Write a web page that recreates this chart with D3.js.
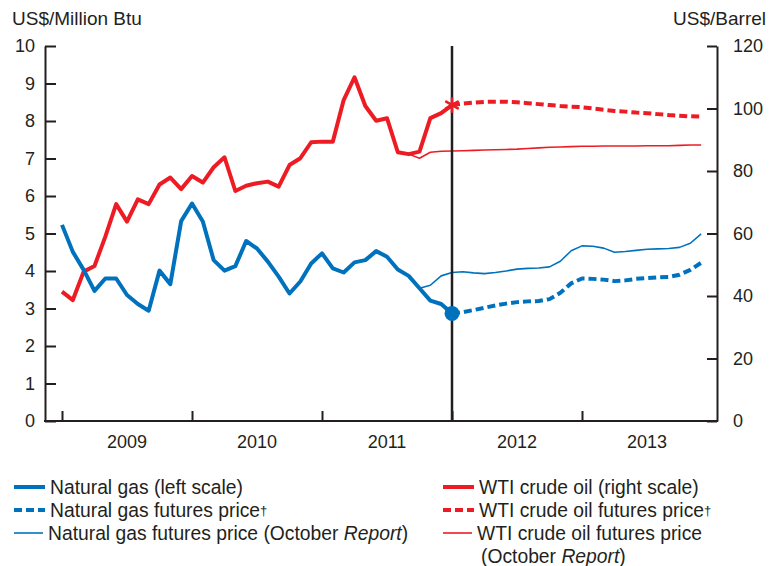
<!DOCTYPE html>
<html>
<head>
<meta charset="utf-8">
<script src="https://cdn.jsdelivr.net/npm/d3@7"></script>
<style>
  body { margin: 0; background: #fff; }
  text { font-family: "Liberation Sans", Arial, sans-serif; fill: #231f20; }
</style>
</head>
<body>
<div id="chart"></div>
<script>
// months counted from Jan 2009 (0) to Dec 2013 (59)
var gasMonths = d3.range(0, 37);
var gasHist = [5.23, 4.51, 4.03, 3.47, 3.80, 3.80, 3.36, 3.12, 2.94, 4.01, 3.65, 5.33,
  5.80, 5.32, 4.29, 4.01, 4.13, 4.80, 4.60, 4.25, 3.85, 3.40, 3.72, 4.20,
  4.47, 4.07, 3.96, 4.23, 4.29, 4.53, 4.38, 4.04, 3.87, 3.54, 3.21, 3.12, 2.87];
var oilHist = [41.4, 38.7, 47.8, 49.6, 59.0, 69.4, 63.8, 70.9, 69.4, 75.7, 77.9, 74.2,
  78.4, 76.3, 81.2, 84.4, 73.6, 75.3, 76.1, 76.6, 75.0, 81.9, 84.1, 89.2,
  89.4, 89.4, 102.7, 110.0, 100.8, 96.1, 96.9, 86.0, 85.4, 86.2, 96.9, 98.5, 101.1];

var futMonths = d3.range(36, 60);
var gasFut = [2.87, 2.90, 2.96, 3.02, 3.08, 3.13, 3.17, 3.19, 3.20, 3.25, 3.42, 3.67,
  3.80, 3.79, 3.77, 3.73, 3.75, 3.79, 3.81, 3.83, 3.84, 3.90, 4.03, 4.22];
var oilFut = [101.1, 101.6, 101.9, 102.1, 102.2, 102.2, 102.0, 101.7, 101.4, 101.1, 100.8, 100.6,
  100.4, 100.0, 99.6, 99.2, 99.0, 98.7, 98.5, 98.2, 97.9, 97.7, 97.5, 97.4];

var gasOctMonths = d3.range(33, 60);
var gasOct = [3.54, 3.62, 3.87, 3.96, 3.98, 3.95, 3.93, 3.96, 4.00, 4.05, 4.07, 4.08,
  4.11, 4.26, 4.54, 4.67, 4.66, 4.61, 4.50, 4.52, 4.55, 4.58, 4.59, 4.60, 4.63, 4.74, 4.99];
var oilOctMonths = d3.range(32, 60);
var oilOct = [85.4, 84.1, 86.0, 86.3, 86.4, 86.5, 86.6, 86.7, 86.8, 86.9, 87.0, 87.2,
  87.4, 87.6, 87.7, 87.8, 87.9, 87.9, 88.0, 88.0, 88.0, 88.0, 88.1, 88.1, 88.1, 88.2, 88.3, 88.3];

var yearTicks = [0, 12, 24, 36, 48];
var yearLabels = ["2009", "2010", "2011", "2012", "2013"];

var blue = "#0071bc", red = "#ed1c24", ink = "#231f20";

var width = 770, height = 566;
var plotLeft = 45, plotRight = 717, plotTop = 46, plotBottom = 421;

var svg = d3.select("#chart").append("svg")
  .attr("width", width)
  .attr("height", height);

// scales
var x = d3.scaleLinear().domain([0, 36]).range([62, 452]);
var yL = d3.scaleLinear().domain([0, 10]).range([plotBottom, plotTop]);
var yR = d3.scaleLinear().domain([0, 120]).range([plotBottom, plotTop]);

// unit labels
svg.append("text").attr("x", 12).attr("y", 25).style("font-size", "19px").text("US$/Million Btu");
svg.append("text").attr("x", 766).attr("y", 25).attr("text-anchor", "end").style("font-size", "19px").text("US$/Barrel");

// left axis
var gL = svg.append("g").attr("transform", "translate(" + plotLeft + ",0)")
  .call(d3.axisLeft(yL).ticks(10).tickSize(-11).tickSizeOuter(0).tickPadding(10));
// right axis
var gR = svg.append("g").attr("transform", "translate(" + plotRight + ",0)")
  .call(d3.axisRight(yR).tickValues(d3.range(0, 121, 20)).tickSize(-10).tickSizeOuter(0).tickPadding(16));

[gL, gR].forEach(function (g) {
  g.selectAll("path, line").attr("stroke", ink).attr("stroke-width", 2);
  g.selectAll("text").style("font-size", "18px").attr("fill", ink);
});

// bottom axis line and year ticks
svg.append("line")
  .attr("x1", plotLeft - 1).attr("x2", plotRight + 1)
  .attr("y1", plotBottom).attr("y2", plotBottom)
  .attr("stroke", ink).attr("stroke-width", 2);

var gB = svg.append("g").attr("transform", "translate(0," + plotBottom + ")")
  .call(d3.axisBottom(x).tickValues(yearTicks).tickSize(-10).tickFormat(""));
gB.select(".domain").remove();
gB.selectAll("line").attr("stroke", ink).attr("stroke-width", 2);

svg.selectAll(".year")
  .data(yearLabels)
  .enter()
  .append("text")
  .attr("class", "year")
  .attr("x", function (d, i) { return x(yearTicks[i] + 6); })
  .attr("y", 448)
  .attr("text-anchor", "middle")
  .style("font-size", "18px")
  .text(function (d) { return d; });

// line generators
function lineFor(months, scale) {
  return d3.line()
    .x(function (d, i) { return x(months[i]); })
    .y(function (d) { return scale(d); });
}

function drawLine(values, months, scale, color, w, dash) {
  var p = svg.append("path")
    .datum(values)
    .attr("d", lineFor(months, scale))
    .attr("fill", "none")
    .attr("stroke", color)
    .attr("stroke-width", w)
    .attr("stroke-linejoin", "round");
  if (dash) p.attr("stroke-dasharray", dash);
  return p;
}

// October report projections (thin)
drawLine(oilOct, oilOctMonths, yR, red, 1.6);
drawLine(gasOct, gasOctMonths, yL, blue, 1.6);

// history (thick)
drawLine(oilHist, gasMonths, yR, red, 4);
drawLine(gasHist, gasMonths, yL, blue, 4);

// futures (dashed)
drawLine(oilFut, futMonths, yR, red, 4, "8,4");
drawLine(gasFut, futMonths, yL, blue, 4, "8,4");

// vertical divider
svg.append("line")
  .attr("x1", x(36)).attr("x2", x(36))
  .attr("y1", plotTop).attr("y2", plotBottom)
  .attr("stroke", ink).attr("stroke-width", 2.5);

// markers
svg.append("circle")
  .attr("cx", x(36)).attr("cy", yL(gasHist[36]))
  .attr("r", 7.5)
  .attr("fill", blue);

svg.append("path")
  .attr("d", d3.symbol().type(d3.symbolAsterisk).size(170)())
  .attr("transform", "translate(" + x(36) + "," + yR(oilHist[36]) + ")")
  .attr("fill", "none")
  .attr("stroke", red)
  .attr("stroke-width", 2.5);

// LEGEND
var legendData = [
  { x: 14, y: 487, color: blue, w: 4, dash: null, len: 31, label: ["Natural gas (left scale)"] },
  { x: 14, y: 510, color: blue, w: 4, dash: "8,4", len: 31, label: ["Natural gas futures price"], mark: true },
  { x: 14, y: 533, color: blue, w: 1.6, dash: null, len: 29, label: ["Natural gas futures price (October ", "Report", ")"] },
  { x: 443, y: 487, color: red, w: 4, dash: null, len: 31, label: ["WTI crude oil (right scale)"] },
  { x: 443, y: 510, color: red, w: 4, dash: "8,4", len: 31, label: ["WTI crude oil futures price"], mark: true },
  { x: 443, y: 533, color: red, w: 1.6, dash: null, len: 29, label: ["WTI crude oil futures price"] }
];

var legendItems = svg.selectAll(".legend-item")
  .data(legendData)
  .enter()
  .append("g")
  .attr("class", "legend-item")
  .attr("transform", function (d) { return "translate(" + d.x + "," + d.y + ")"; });

legendItems.append("line")
  .attr("x1", 0)
  .attr("x2", function (d) { return d.len; })
  .attr("stroke", function (d) { return d.color; })
  .attr("stroke-width", function (d) { return d.w; })
  .attr("stroke-dasharray", function (d) { return d.dash; });

var legendText = legendItems.append("text")
  .attr("x", function (d) { return d.len + 5; })
  .attr("y", 6.5)
  .style("font-size", "19.3px");

legendText.each(function (d) {
  var t = d3.select(this);
  d.label.forEach(function (s, i) {
    t.append("tspan").text(s).style("font-style", i === 1 ? "italic" : null);
  });
  if (d.mark) {
    t.append("tspan").text("\u2020").style("font-size", "13px").attr("dy", -2);
  }
});

svg.append("text")
  .attr("x", 481)
  .attr("y", 563)
  .style("font-size", "19.3px")
  .html('(October <tspan font-style="italic">Report</tspan>)');
</script>
</body>
</html>
